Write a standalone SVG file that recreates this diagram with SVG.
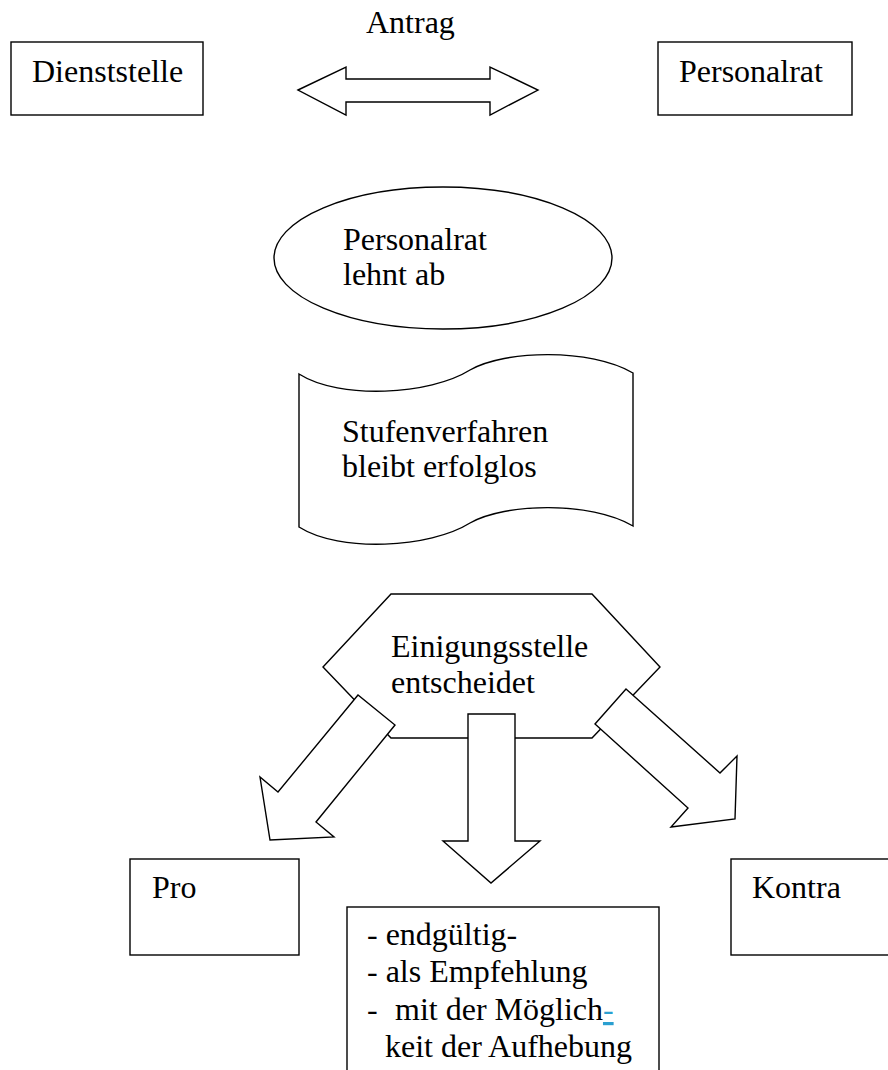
<svg xmlns="http://www.w3.org/2000/svg" width="888" height="1070" viewBox="0 0 888 1070">
<style>
.s{fill:#fff;stroke:#000;stroke-width:1.4}
.t{font-family:'Liberation Serif','Times New Roman','DejaVu Serif',serif;font-size:32px;fill:#000}
</style>
<rect width="888" height="1070" fill="#fff"/>
<g font-family="Liberation Serif, serif">
<g id="dienststelle"><rect class="s" x="11" y="42" width="192" height="73"/><text class="t" x="32" y="82">Dienststelle</text></g>
<g id="personalrat"><rect class="s" x="658" y="42" width="194" height="73"/><text class="t" x="679" y="82">Personalrat</text></g>
<g id="ablehnung"><ellipse class="s" cx="443" cy="258" rx="169" ry="71"/><text class="t" x="343" y="250">Personalrat</text><text class="t" x="343" y="285">lehnt ab</text></g>
<g id="stufenverfahren"><path class="s" d="M299,374 C340,400 430,395 470,370 C505,350 590,348 633,373 L633,526 C590,501 505,503 470,523 C430,548 340,553 299,527 Z"/><text class="t" x="342" y="442">Stufenverfahren</text><text class="t" x="342" y="477">bleibt erfolglos</text></g>
<g id="einigungsstelle"><polygon class="s" points="391,594 592,594 660,667 592,738 391,738 323,667"/><text class="t" x="391" y="657">Einigungsstelle</text><text class="t" x="391" y="693">entscheidet</text></g>
<g id="connectors">
<text class="t" x="366" y="33">Antrag</text>
<polygon class="s" points="298,90 346,67 346,79 490,79 490,67 538,90 490,115 490,102 346,102 346,115"/>
<polygon class="s" points="358,695 278,792 260,777 270,840 334,837 316,822 395,725"/>
<polygon class="s" points="468,714 515,714 515,841 540,841 491,883 443,841 468,841"/>
<polygon class="s" points="626,689 720,773 737,756 735,819 671,827 688,808 595,724"/>
</g>
<g id="pro"><rect class="s" x="130" y="859" width="169" height="96"/><text class="t" x="152" y="898">Pro</text></g>
<g id="kontra"><rect class="s" x="731" y="859" width="170" height="96"/><text class="t" x="752" y="898">Kontra</text></g>
<g id="ergebnis"><rect class="s" x="347" y="907" width="312" height="180"/>
<text class="t" x="367" y="945">- endgültig-</text>
<text class="t" x="367" y="982">- als Empfehlung</text>
<text class="t" x="367" y="1020">-</text><text class="t" x="395" y="1020">mit der Möglich<tspan fill="#2a9fd0" text-decoration="underline">-</tspan></text>
<text class="t" x="385" y="1057">keit der Aufhebung</text>
</g>
</g>
</svg>
